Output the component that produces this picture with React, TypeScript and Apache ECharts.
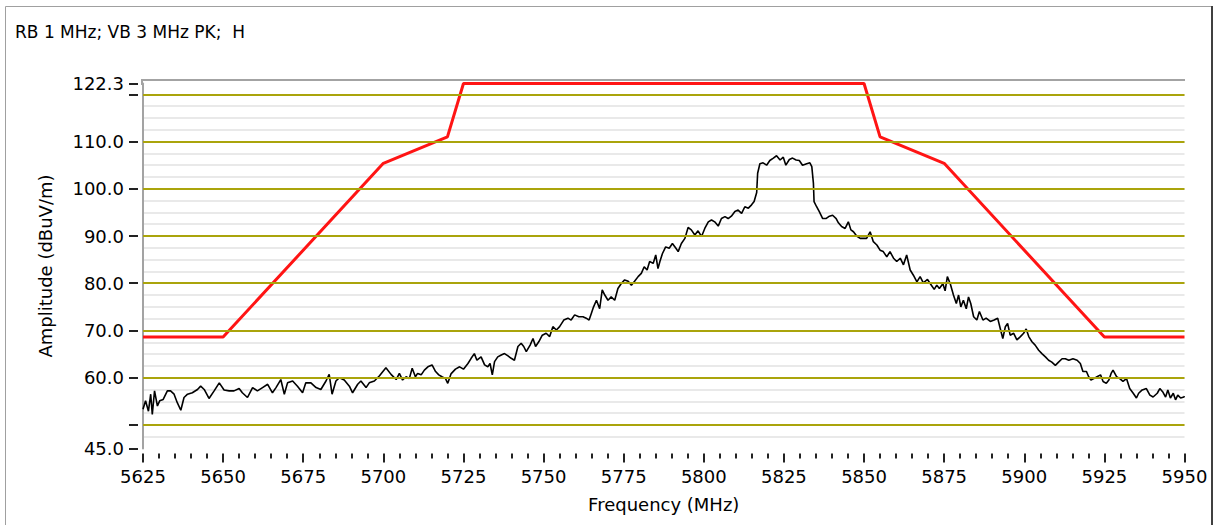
import React, { useEffect, useRef } from "react";
import * as echarts from "echarts";

const chartTitle = "RB 1 MHz; VB 3 MHz PK;  H";
const xAxisName = "Frequency (MHz)";
const yAxisName = "Amplitude (dBuV/m)";

const xMin = 5625;
const xMax = 5950;
const xInterval = 25;
const yMin = 45;
const yMax = 122.3;
const yMinorStep = 2.5;
const yTickValues = [45, 50, 60, 70, 80, 90, 100, 110, 120, 122.3];
const yLabelValues = [45, 60, 70, 80, 90, 100, 110, 122.3];
const majorGridValues = [50, 60, 70, 80, 90, 100, 110, 120];

// Emission limit mask (red)
const limitFreq = [5625, 5650, 5700, 5720, 5725, 5850, 5855, 5875, 5925, 5950];
const limitLevel = [68.6, 68.6, 105.4, 111.0, 122.3, 122.3, 111.0, 105.4, 68.6, 68.6];

// Measured peak trace (black)
const traceFreq = [
  5625.0, 5625.8, 5626.7, 5627.4, 5627.9, 5628.6, 5629.5, 5630.2, 5631.3, 5632.6,
  5633.6, 5634.7, 5635.7, 5636.8, 5637.8, 5638.9, 5640.4, 5642.0, 5643.0, 5644.1,
  5645.6, 5647.2, 5648.8, 5650.3, 5651.9, 5653.4, 5655.0, 5656.0, 5657.6, 5659.2,
  5660.7, 5662.3, 5663.9, 5665.4, 5666.5, 5668.0, 5669.1, 5670.1, 5671.7, 5673.2,
  5674.8, 5675.8, 5677.4, 5679.0, 5680.5, 5682.1, 5683.1, 5684.0, 5685.2, 5686.3,
  5687.8, 5689.4, 5690.4, 5692.0, 5693.0, 5694.6, 5695.6, 5697.2, 5698.8, 5700.8,
  5702.4, 5704.0, 5705.0, 5706.0, 5707.1, 5708.1, 5709.0, 5710.0, 5710.7, 5711.8,
  5712.8, 5713.9, 5715.2, 5716.3, 5717.3, 5718.3, 5719.4, 5720.1, 5721.1, 5722.5,
  5723.8, 5725.0, 5726.4, 5727.4, 5728.4, 5729.2, 5730.5, 5731.6, 5732.6, 5733.3,
  5734.0, 5734.7, 5735.7, 5736.8, 5737.8, 5738.9, 5739.9, 5740.9, 5742.0, 5743.0,
  5743.8, 5744.6, 5745.8, 5746.7, 5747.5, 5748.5, 5749.6, 5750.8, 5751.9, 5752.9,
  5754.0, 5755.0, 5756.3, 5757.6, 5758.6, 5759.7, 5761.0, 5762.3, 5763.3, 5764.2,
  5764.9, 5765.6, 5766.5, 5767.5, 5768.3, 5769.1, 5770.1, 5771.1, 5772.2, 5773.2,
  5774.3, 5775.3, 5776.4, 5777.4, 5778.4, 5779.5, 5780.5, 5781.4, 5782.3, 5783.1,
  5784.2, 5785.0, 5785.7, 5786.3, 5787.1, 5788.1, 5789.2, 5790.2, 5791.3, 5792.0,
  5793.0, 5794.1, 5795.1, 5796.1, 5797.2, 5798.2, 5799.3, 5800.3, 5801.4, 5802.4,
  5803.4, 5804.5, 5805.5, 5806.6, 5807.6, 5808.6, 5809.7, 5810.7, 5811.8, 5812.8,
  5813.9, 5814.9, 5815.7, 5816.5, 5816.8, 5817.5, 5818.5, 5819.6, 5820.6, 5821.7,
  5822.7, 5823.8, 5824.8, 5825.6, 5826.7, 5827.7, 5828.8, 5829.8, 5830.8, 5832.1,
  5833.1, 5833.7, 5834.2, 5834.4, 5835.2, 5836.0, 5837.1, 5838.1, 5839.2, 5840.2,
  5841.3, 5842.0, 5843.0, 5844.1, 5845.1, 5845.9, 5846.7, 5847.7, 5848.8, 5849.8,
  5850.8, 5851.9, 5852.9, 5854.0, 5855.0, 5856.0, 5857.1, 5858.1, 5859.2, 5860.2,
  5861.3, 5862.3, 5863.3, 5864.4, 5865.4, 5866.5, 5867.5, 5868.5, 5869.8, 5870.8,
  5871.9, 5872.7, 5873.5, 5874.6, 5875.3, 5876.0, 5876.9, 5877.9, 5878.8, 5879.5,
  5880.2, 5881.0, 5881.9, 5882.6, 5883.3, 5884.2, 5885.2, 5886.0, 5887.1, 5888.1,
  5889.4, 5890.6, 5891.7, 5892.5, 5893.3, 5894.1, 5894.8, 5895.6, 5896.7, 5897.7,
  5898.8, 5899.8, 5900.6, 5901.4, 5902.4, 5903.4, 5904.5, 5905.5, 5906.6, 5907.6,
  5908.6, 5909.7, 5910.7, 5911.8, 5912.8, 5913.9, 5915.2, 5916.5, 5917.5, 5918.3,
  5919.4, 5920.1, 5920.8, 5921.7, 5922.7, 5923.8, 5924.6, 5925.6, 5926.4, 5927.1,
  5927.7, 5928.8, 5929.8, 5930.8, 5931.9, 5932.9, 5934.0, 5935.0, 5935.7, 5936.8,
  5938.1, 5939.2, 5940.2, 5941.5, 5942.3, 5943.3, 5944.1, 5944.8, 5945.6, 5946.5,
  5947.2, 5947.9, 5948.8, 5949.8, 5950.0,
];
const traceLevel = [
  53.3, 55.1, 52.9, 56.5, 52.2, 57.2, 54.0, 55.1, 55.4, 57.2,
  57.2, 56.5, 54.7, 53.1, 55.8, 56.5, 56.8, 57.5, 58.2, 57.5,
  55.6, 57.2, 58.9, 57.4, 57.2, 57.2, 57.7, 56.8, 55.8, 57.9,
  57.2, 57.9, 58.6, 56.8, 57.9, 59.6, 56.5, 58.9, 59.3, 58.2,
  56.8, 58.9, 58.9, 57.9, 57.5, 59.3, 60.7, 56.5, 59.3, 60.0,
  59.5, 58.2, 56.8, 58.6, 59.3, 57.9, 58.9, 59.3, 60.4, 62.1,
  60.7, 59.6, 60.9, 59.5, 60.2, 59.8, 62.0, 60.2, 60.9, 60.6,
  61.6, 62.3, 62.7, 61.3, 60.6, 60.2, 59.8, 58.8, 60.8, 61.8,
  62.3, 61.8, 63.0, 64.1, 65.1, 63.7, 64.4, 62.7, 62.3, 63.0,
  60.6, 63.4, 64.4, 64.8, 65.1, 64.6, 64.1, 63.7, 66.6, 67.3,
  66.6, 65.5, 66.9, 68.3, 66.6, 67.6, 69.0, 69.4, 68.7, 70.8,
  70.1, 70.8, 72.2, 72.6, 72.2, 73.3, 72.9, 72.9, 72.6, 72.2,
  73.6, 75.0, 76.4, 74.6, 78.6, 77.5, 76.4, 77.1, 76.4, 78.9,
  80.0, 80.7, 80.4, 79.6, 80.4, 81.4, 82.1, 83.5, 82.8, 84.6,
  84.2, 86.0, 83.1, 84.6, 86.3, 87.7, 87.4, 88.4, 87.4, 86.7,
  88.4, 89.5, 91.8, 91.3, 90.2, 91.1, 89.9, 91.6, 93.0, 93.4,
  93.0, 92.1, 93.7, 94.1, 93.7, 94.2, 95.2, 95.5, 94.8, 96.2,
  95.9, 96.6, 97.3, 99.2, 103.3, 105.3, 105.5, 105.0, 106.0, 106.5,
  107.0, 106.1, 106.7, 105.0, 106.2, 106.5, 106.1, 106.0, 105.0, 105.3,
  105.5, 104.7, 101.2, 97.3, 96.2, 95.2, 93.7, 93.7, 94.2, 94.4,
  93.7, 92.8, 92.0, 91.6, 93.0, 91.3, 90.9, 90.0, 89.5, 89.5,
  89.5, 90.9, 88.8, 88.1, 87.0, 86.7, 85.6, 86.7, 85.3, 84.6,
  85.3, 83.9, 86.0, 82.8, 81.7, 80.3, 81.4, 80.1, 80.8, 79.8,
  78.7, 79.6, 78.9, 79.9, 78.4, 81.4, 79.9, 77.5, 75.7, 77.5,
  75.0, 76.4, 74.6, 77.1, 75.7, 72.9, 72.2, 74.0, 72.2, 72.6,
  71.9, 72.2, 72.6, 70.4, 68.3, 70.8, 71.5, 69.0, 69.4, 68.0,
  68.7, 69.4, 70.3, 68.7, 67.6, 66.9, 65.8, 65.1, 64.4, 63.7,
  63.3, 62.6, 63.3, 64.0, 64.0, 63.7, 64.0, 63.7, 63.0, 61.3,
  61.3, 60.2, 59.5, 59.8, 60.2, 60.6, 59.2, 58.8, 59.5, 60.9,
  61.6, 60.2, 59.8, 59.2, 59.8, 57.7, 56.7, 55.7, 56.7, 57.4,
  57.7, 56.3, 55.9, 56.7, 57.7, 56.9, 55.9, 57.4, 55.7, 56.7,
  55.3, 56.3, 55.7, 55.9, 56.1,
];

const FONT = "'DejaVu Sans', Verdana, sans-serif";
const OLIVE = "#aaa40c";

export default function App() {
  const ref = useRef<HTMLDivElement | null>(null);

  useEffect(() => {
    if (!ref.current) return;
    const chart = echarts.init(ref.current, undefined, { renderer: "svg" });

    const traceData = traceFreq.map((f, i) => [f, traceLevel[i]]);
    const limitData = limitFreq.map((f, i) => [f, limitLevel[i]]);

    chart.setOption({
      animation: false,
      backgroundColor: "#ffffff",
      textStyle: { fontFamily: FONT },
      title: {
        text: chartTitle,
        left: 15,
        top: 23,
        padding: 0,
        textStyle: { fontSize: 17, fontWeight: "normal", color: "#000", fontFamily: FONT },
      },
      grid: { left: 143, right: 30.5, top: 83.5, bottom: 76.5, containLabel: false },
      xAxis: {
        type: "value",
        min: xMin,
        max: xMax,
        interval: xInterval,
        position: "bottom",
        offset: 5,
        axisLine: { show: false },
        axisTick: { show: true, length: 9, lineStyle: { color: "#222", width: 2 } },
        minorTick: { show: true, splitNumber: 5, length: 5, lineStyle: { color: "#222", width: 2 } },
        axisLabel: {
          margin: 14,
          fontSize: 18,
          color: "#000",
          fontFamily: FONT,
          formatter: (v: number) => String(Math.round(v)),
        },
        splitLine: { show: false },
        minorSplitLine: { show: false },
        name: xAxisName,
        nameLocation: "middle",
        nameGap: 42,
        nameTextStyle: { fontSize: 18, color: "#000", fontFamily: FONT },
      },
      yAxis: [
        {
          type: "value",
          min: yMin,
          max: yMax,
          interval: yMinorStep,
          position: "left",
          axisLine: { show: true, lineStyle: { color: "#a3a3a3", width: 2 } },
          axisTick: { show: false },
          axisLabel: { show: false },
          splitLine: {
            show: true,
            showMinLine: false,
            showMaxLine: false,
            lineStyle: { color: "#e9e9e9", width: 2 },
          },
        },
        {
          type: "value",
          min: yMin,
          max: yMax,
          position: "left",
          offset: 5,
          axisLine: { show: false },
          axisTick: {
            show: true,
            length: 9,
            customValues: yTickValues,
            lineStyle: { color: "#222", width: 2 },
          },
          axisLabel: {
            show: true,
            customValues: yLabelValues,
            margin: 14,
            fontSize: 18,
            color: "#000",
            fontFamily: FONT,
            formatter: (v: number) => v.toFixed(1),
          },
          splitLine: { show: false },
          name: yAxisName,
          nameLocation: "middle",
          nameGap: 84,
          nameTextStyle: { fontSize: 18, color: "#000", fontFamily: FONT },
        },
      ],
      graphic: [
        {
          type: "polyline",
          silent: true,
          shape: { points: [[142, 85], [142, 80], [1185, 80]] },
          style: { stroke: "#a3a3a3", lineWidth: 2, fill: "none" },
        },
        {
          type: "polyline",
          silent: true,
          shape: { points: [[5.5, 530], [5.5, 6.5], [1212, 6.5]] },
          style: { stroke: "#a0a0a0", lineWidth: 1, fill: "none" },
        },
        {
          type: "line",
          silent: true,
          shape: { x1: 1212, y1: 6, x2: 1212, y2: 530 },
          style: { stroke: "#404040", lineWidth: 2 },
        },
      ],
      series: [
        {
          type: "line",
          name: "grid",
          data: [],
          z: 1,
          silent: true,
          markLine: {
            silent: true,
            symbol: ["none", "none"],
            label: { show: false },
            emphasis: { disabled: true },
            lineStyle: { color: OLIVE, width: 2, type: "solid" },
            data: majorGridValues.map((v) => ({ yAxis: v })),
          },
        },
        {
          type: "line",
          name: "Trace",
          data: traceData,
          symbol: "none",
          z: 3,
          silent: true,
          lineStyle: { color: "#000000", width: 1.6 },
        },
        {
          type: "line",
          name: "Limit",
          data: limitData,
          symbol: "none",
          z: 4,
          silent: true,
          lineStyle: { color: "#ff1414", width: 3 },
        },
      ],
    });

    return () => {
      chart.dispose();
    };
  }, []);

  return (
    <div
      ref={ref}
      style={{ position: "absolute", left: 0, top: 0, width: 1215, height: 525, background: "#fff" }}
    />
  );
}
